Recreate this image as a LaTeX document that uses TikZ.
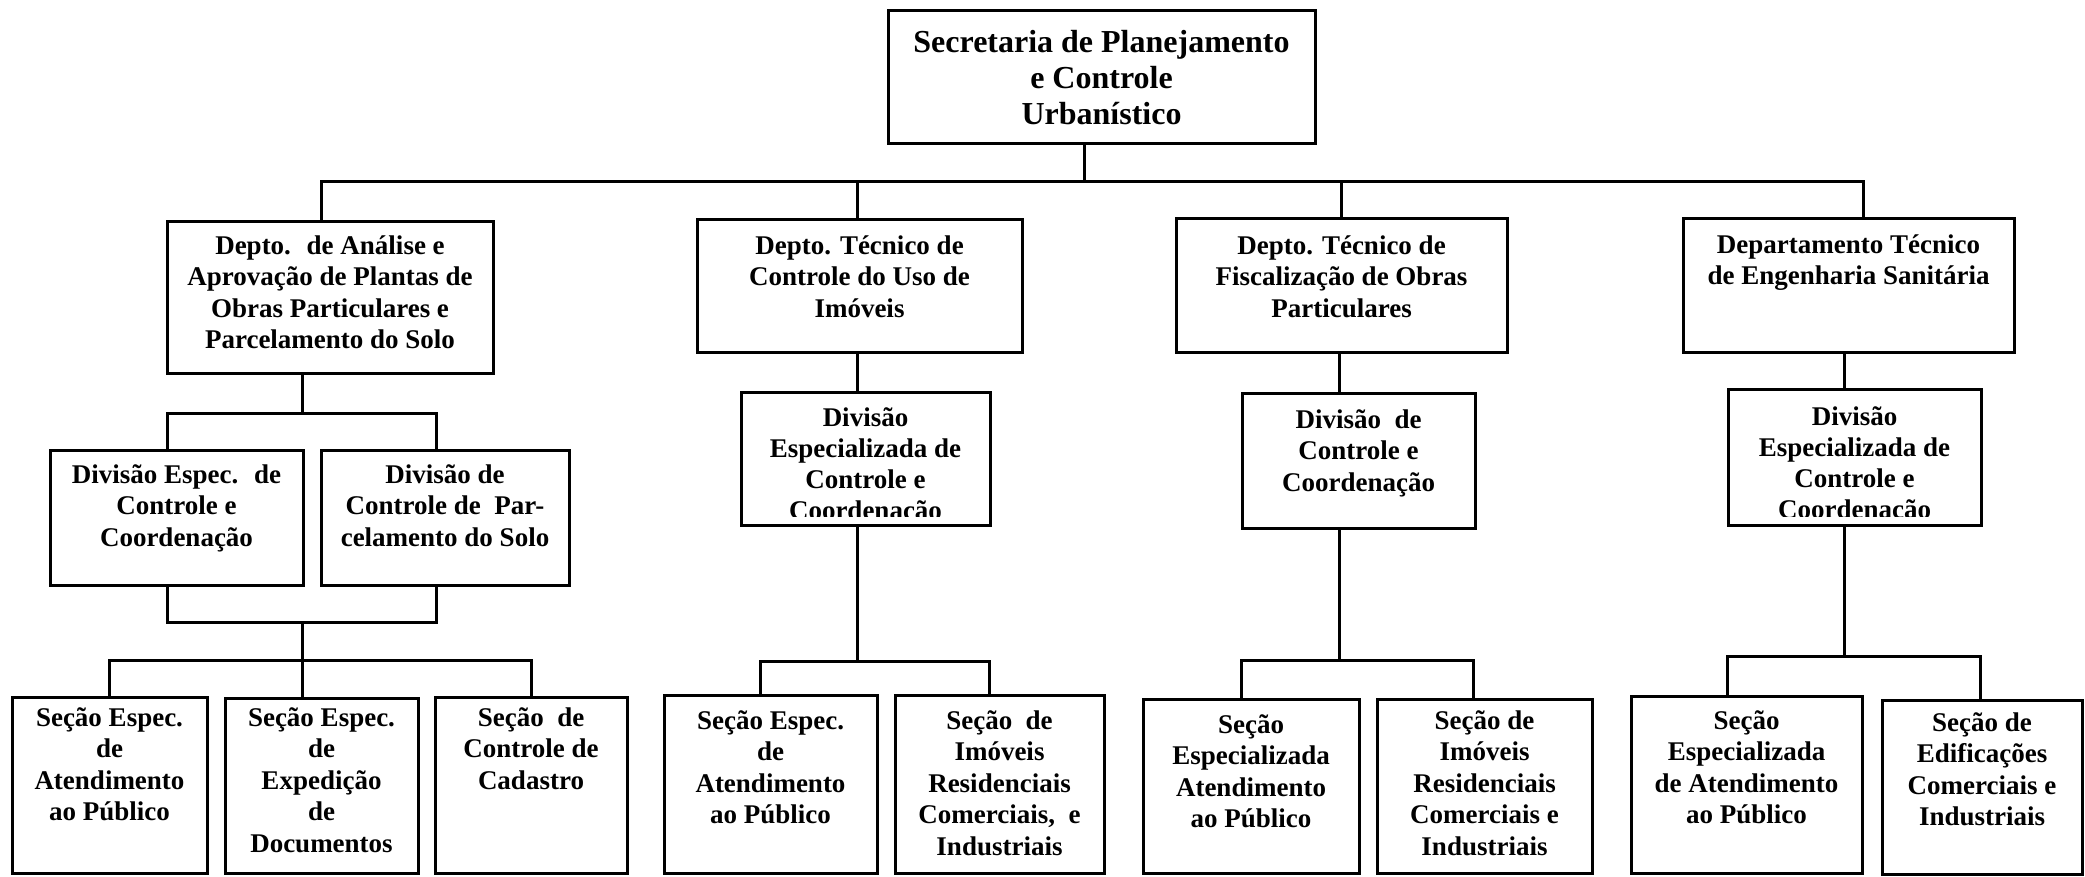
\documentclass[tikz,border=0pt]{standalone}
\usepackage{fontspec}
\setmainfont{Liberation Serif}
\usepackage{tikz}

\tikzset{
	caixa/.style={draw, line width=3pt, anchor=north west, inner sep=0pt, outer sep=0pt},
	texto/.style={font=\bfseries\fontsize{27}{31.5}\selectfont, align=center, anchor=north, inner sep=0pt, execute at begin node=\strut},
	cortado/.style={texto, font=\bfseries\fontsize{27}{31}\selectfont},
}

\begin{document}
\begin{tikzpicture}[x=1pt, y=-1pt, line width=3pt]
	\useasboundingbox (0,0) rectangle (2085,877);

	\node[caixa, minimum width=427pt, minimum height=133pt] (secretaria) at (888,11) {};
	\node[texto, font=\bfseries\fontsize{32}{36}\selectfont] (secretariat) at ([yshift=-18pt]secretaria.north) {Secretaria de Planejamento\\e Controle\\Urbanístico};

	\node[caixa, minimum width=326pt, minimum height=151pt] (depto1) at (167,222) {};
	\node[texto] (depto1t) at ([yshift=-12pt]depto1.north) {Depto.~ de Análise e\\Aprovação de Plantas de\\Obras Particulares e\\Parcelamento do Solo};
	\node[caixa, minimum width=325pt, minimum height=132pt] (depto2) at (697,220) {};
	\node[texto] (depto2t) at ([yshift=-14pt]depto2.north) {Depto. Técnico de\\Controle do Uso de\\Imóveis};
	\node[caixa, minimum width=331pt, minimum height=133pt] (depto3) at (1176,219) {};
	\node[texto] (depto3t) at ([yshift=-15pt]depto3.north) {Depto. Técnico de\\Fiscalização de Obras\\Particulares};
	\node[caixa, minimum width=331pt, minimum height=133pt] (depto4) at (1683,219) {};
	\node[texto] (depto4t) at ([yshift=-14pt]depto4.north) {Departamento Técnico\\de Engenharia Sanitária};

	\node[caixa, minimum width=253pt, minimum height=135pt] (div1a) at (50,450) {};
	\node[texto] (div1at) at ([yshift=-13pt]div1a.north) {Divisão Espec.~ de\\Controle e\\Coordenação};
	\node[caixa, minimum width=248pt, minimum height=135pt] (div1b) at (321,450) {};
	\node[texto] (div1bt) at ([yshift=-13pt]div1b.north) {Divisão de\\Controle de~ Par-\\celamento do Solo};
	\node[caixa, minimum width=249pt, minimum height=133pt] (div2) at (741,392) {};
	\begin{scope}
		\clip ([yshift=9pt]div2.south west) rectangle (div2.north east);
		\node[cortado] (div2t) at ([yshift=-14.3pt]div2.north) {Divisão\\Especializada de\\Controle e\\Coordenação};
	\end{scope}
	\node[caixa, minimum width=233pt, minimum height=135pt] (div3) at (1242,393) {};
	\node[texto] (div3t) at ([yshift=-15pt]div3.north) {Divisão~ de\\Controle e\\Coordenação};
	\node[caixa, minimum width=253pt, minimum height=136pt] (div4) at (1728,389) {};
	\begin{scope}
		\clip ([yshift=9pt]div4.south west) rectangle (div4.north east);
		\node[cortado] (div4t) at ([yshift=-16.3pt]div4.north) {Divisão\\Especializada de\\Controle e\\Coordenação};
	\end{scope}

	\node[caixa, minimum width=195pt, minimum height=176pt] (secao1) at (12,697) {};
	\node[texto] (secao1t) at ([yshift=-9pt]secao1.north) {Seção Espec.\\de\\Atendimento\\ao Público};
	\node[caixa, minimum width=193pt, minimum height=175pt] (secao2) at (225,698) {};
	\node[texto] (secao2t) at ([yshift=-8pt]secao2.north) {Seção Espec.\\de\\Expedição\\de\\Documentos};
	\node[caixa, minimum width=192pt, minimum height=176pt] (secao3) at (435,697) {};
	\node[texto] (secao3t) at ([yshift=-9pt]secao3.north) {Seção~ de\\Controle de\\Cadastro};
	\node[caixa, minimum width=213pt, minimum height=178pt] (secao4) at (664,695) {};
	\node[texto] (secao4t) at ([yshift=-14pt]secao4.north) {Seção Espec.\\de\\Atendimento\\ao Público};
	\node[caixa, minimum width=209pt, minimum height=178pt] (secao5) at (895,695) {};
	\node[texto] (secao5t) at ([yshift=-14pt]secao5.north) {Seção~ de\\Imóveis\\Residenciais\\Comerciais,~ e\\Industriais};
	\node[caixa, minimum width=216pt, minimum height=174pt] (secao6) at (1143,699) {};
	\node[texto] (secao6t) at ([yshift=-14pt]secao6.north) {Seção\\Especializada\\Atendimento\\ao Público};
	\node[caixa, minimum width=215pt, minimum height=174pt] (secao7) at (1377,699) {};
	\node[texto] (secao7t) at ([yshift=-10pt]secao7.north) {Seção de\\Imóveis\\Residenciais\\Comerciais e\\Industriais};
	\node[caixa, minimum width=231pt, minimum height=177pt] (secao8) at (1631,696) {};
	\node[texto] (secao8t) at ([yshift=-13pt]secao8.north) {Seção\\Especializada\\de Atendimento\\ao Público};
	\node[caixa, minimum width=200pt, minimum height=174pt] (secao9) at (1882,700) {};
	\node[texto] (secao9t) at ([yshift=-11pt]secao9.north) {Seção de\\Edificações\\Comerciais e\\Industriais};

	\draw ([xshift=-9pt]depto1.north) -- ++(0,-40) coordinate (b0) -| ([xshift=14.5pt]depto4.north);
	\draw ([xshift=-17.5pt]secretaria.south) -- ([xshift=-17.5pt]secretaria.south |- b0);
	\draw ([xshift=-2.5pt]depto2.north) -- ([xshift=-2.5pt]depto2.north |- b0);
	\draw (depto3.north) -- (depto3.north |- b0);

	\draw ([xshift=-9.5pt]div1a.north) -- ++(0,-37) coordinate (b1) -| ([xshift=-9pt]div1b.north);
	\draw ([xshift=-28pt]depto1.south) -- ([xshift=-28pt]depto1.south |- b1);
	\draw ([xshift=-9.5pt]div1a.south) -- ++(0,37) coordinate (b1b) -| ([xshift=-9pt]div1b.south);
	\draw (secao1.north) -- ++(0,-37) coordinate (b1c) -| (secao3.north);
	\draw ([xshift=-19.5pt]secao2.north) -- ([xshift=-19.5pt]secao2.north |- b1b);

	\draw ([xshift=-2.5pt]depto2.south) -- ([xshift=-2.5pt]depto2.south |- div2.north);
	\draw ([xshift=-10.5pt]secao4.north) -- ++(0,-34) coordinate (b2) -| ([xshift=-10.5pt]secao5.north);
	\draw ([xshift=-2.5pt]depto2.south |- div2.south) -- ([xshift=-2.5pt]depto2.south |- b2);

	\draw ([xshift=-2.5pt]depto3.south) -- ([xshift=-2.5pt]depto3.south |- div3.north);
	\draw ([xshift=-10pt]secao6.north) -- ++(0,-39) coordinate (b3) -| ([xshift=-11.5pt]secao7.north);
	\draw ([xshift=-2.5pt]depto3.south |- div3.south) -- ([xshift=-2.5pt]depto3.south |- b3);

	\draw ([xshift=-4.5pt]depto4.south) -- ([xshift=-4.5pt]depto4.south |- div4.north);
	\draw ([xshift=-19.5pt]secao8.north) -- ++(0,-40) coordinate (b4) -| ([xshift=-2pt]secao9.north);
	\draw ([xshift=-4.5pt]depto4.south |- div4.south) -- ([xshift=-4.5pt]depto4.south |- b4);
\end{tikzpicture}
\end{document}
